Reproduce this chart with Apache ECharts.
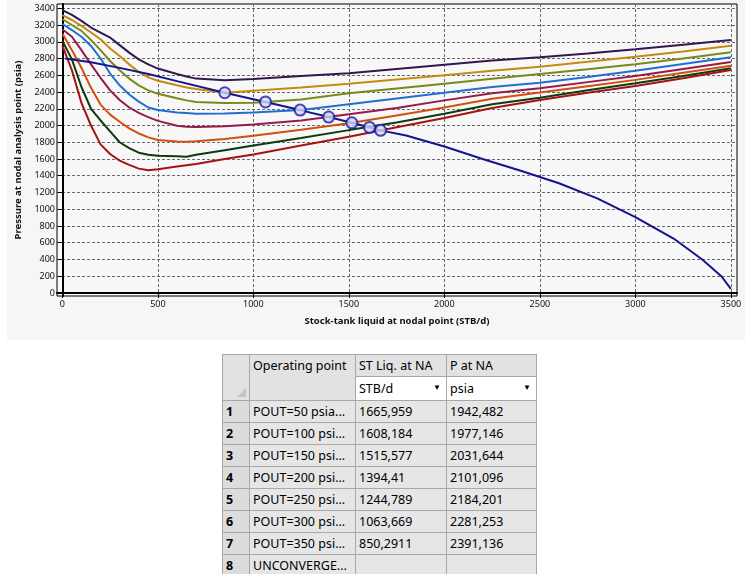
<!DOCTYPE html>
<html>
<head>
<meta charset="utf-8">
<script src="https://cdn.jsdelivr.net/npm/echarts@6/dist/echarts.min.js"></script>
<style>
  html, body { margin: 0; padding: 0; background: #ffffff; width: 745px; height: 574px; overflow: hidden; }
  #bg { position: absolute; left: 7px; top: 0; width: 738px; height: 340px; background: #f6f6f6; }
  #c { position: absolute; left: 0; top: 0; width: 745px; height: 345px; }
  #tbl { position: absolute; left: 222px; top: 354px; border-collapse: collapse; font-family: "Noto Sans", sans-serif; font-size: 12.5px; color: #000; }
  #tbl td { border: 1px solid #a8a8a8; padding: 0 3px; height: 21px; white-space: nowrap; background: #e6e6e6; }
  #tbl td.rn { font-weight: bold; width: 20px; background: #dcdcdc; }
  #tbl td.hd { background: #e2e2e2; }
  #tbl td.unit { background: #ffffff; position: relative; }
  #tbl td.unit span.arr { position: absolute; right: 5px; top: 4px; font-size: 8px; }
  #tbl td.corner { background: #e2e2e2; position: relative; }
  #tbl td.corner span.tri { position: absolute; right: 3px; bottom: 3px; width: 0; height: 0; border-left: 9px solid transparent; border-bottom: 9px solid #c4c4c4; }
</style>
</head>
<body>
<div id="bg"></div>
<div id="c"></div>
<table id="tbl"></table>
<script>
// ---- data ----
const Q = [0, 50, 100, 150, 200, 250, 300, 350, 400, 450, 500, 600, 650, 700, 850, 1000, 1250, 1500, 1750, 2000, 2250, 2500, 2750, 3000, 3250, 3500];
const pout400 = [3379, 3320, 3250, 3170, 3110, 3050, 2960, 2870, 2790, 2730, 2680, 2615, 2585, 2560, 2540, 2555, 2590, 2625, 2675, 2725, 2775, 2814, 2860, 2910, 2965, 3021];
const pout350 = [3319, 3260, 3190, 3110, 3030, 2920, 2830, 2730, 2640, 2575, 2535, 2480, 2455, 2435, 2392, 2415, 2455, 2500, 2550, 2600, 2655, 2702, 2760, 2822, 2885, 2953];
const pout300 = [3272, 3200, 3130, 3020, 2900, 2770, 2660, 2560, 2480, 2420, 2380, 2325, 2300, 2280, 2270, 2272, 2310, 2384, 2442, 2500, 2558, 2615, 2672, 2731, 2800, 2874];
const pout250 = [3212, 3140, 3060, 2950, 2800, 2620, 2480, 2370, 2285, 2215, 2185, 2155, 2148, 2140, 2142, 2155, 2185, 2254, 2323, 2392, 2461, 2511, 2580, 2654, 2735, 2814];
const pout200 = [3149, 3060, 2900, 2730, 2570, 2420, 2305, 2215, 2150, 2100, 2055, 1998, 1986, 1982, 1990, 2012, 2060, 2135, 2210, 2300, 2385, 2444, 2518, 2591, 2675, 2758];
const pout150 = [3100, 2900, 2690, 2450, 2250, 2130, 2045, 1965, 1905, 1858, 1828, 1808, 1806, 1812, 1838, 1877, 1950, 2026, 2120, 2215, 2320, 2395, 2470, 2545, 2630, 2714];
const pout100 = [3013, 2790, 2460, 2200, 2060, 1930, 1800, 1730, 1675, 1650, 1638, 1632, 1628, 1650, 1705, 1760, 1850, 1945, 2035, 2140, 2255, 2332, 2420, 2504, 2590, 2683];
const pout50  = [2953, 2660, 2270, 2000, 1775, 1660, 1580, 1530, 1485, 1465, 1478, 1510, 1525, 1540, 1600, 1655, 1760, 1865, 1978, 2090, 2210, 2304, 2390, 2472, 2565, 2663];

const iprQ = [15, 150, 300, 450, 600, 850.29, 1063.67, 1244.79, 1394.41, 1515.58, 1608.18, 1665.96, 1800, 2000, 2200, 2400, 2600, 2800, 3000, 3200, 3350, 3450, 3500];
const iprP = [2800, 2755, 2688, 2615, 2530, 2391, 2281, 2184, 2101, 2032, 1977, 1942, 1880, 1750, 1600, 1460, 1310, 1130, 905, 650, 400, 200, 50];

const opLabels = ["POUT=50 psia...", "POUT=100 psi...", "POUT=150 psi...", "POUT=200 psi...", "POUT=250 psi...", "POUT=300 psi...", "POUT=350 psi...", "UNCONVERGE..."];
const opQText = ["1665,959", "1608,184", "1515,577", "1394,41", "1244,789", "1063,669", "850,2911", ""];
const opPText = ["1942,482", "1977,146", "2031,644", "2101,096", "2184,201", "2281,253", "2391,136", ""];
const opQ = [1665.959, 1608.184, 1515.577, 1394.41, 1244.789, 1063.669, 850.2911];
const opP = [1942.482, 1977.146, 2031.644, 2101.096, 2184.201, 2281.253, 2391.136];

const xTicks = [0, 500, 1000, 1500, 2000, 2500, 3000, 3500];
const yTicks = [0, 200, 400, 600, 800, 1000, 1200, 1400, 1600, 1800, 2000, 2200, 2400, 2600, 2800, 3000, 3200, 3400];

const xTitle = "Stock-tank liquid at nodal point (STB/d)";
const yTitle = "Pressure at nodal analysis point (psia)";
const colHeads = ["Operating point", "ST Liq. at NA", "P at NA"];
const units = ["STB/d", "psia"];

// ---- chart ----
const curves = [pout400, pout350, pout300, pout250, pout200, pout150, pout100, pout50];
const curveColors = ["#33174f", "#c68a12", "#7a8a18", "#1f6fd3", "#951a48", "#d24f0e", "#0c3b0e", "#a51212"];

const series = curves.map((c, i) => ({
  type: "line",
  data: Q.map((q, j) => [q, c[j]]),
  showSymbol: false,
  lineStyle: { color: curveColors[i], width: 2 },
  itemStyle: { color: curveColors[i] },
  z: 2,
  silent: true
}));
series.push({
  type: "line",
  data: iprQ.map((q, j) => [q, iprP[j]]),
  showSymbol: false,
  lineStyle: { color: "#14148e", width: 2 },
  z: 3,
  silent: true
});
series.push({
  type: "scatter",
  data: opQ.map((q, j) => [q, opP[j]]),
  symbol: "circle",
  symbolSize: 11,
  itemStyle: { color: "#d4d9f4", borderColor: "#1a1aa6", borderWidth: 2 },
  z: 4,
  silent: true
});

const plain = v => String(v);
const axisFont = { fontFamily: "Noto Sans", fontSize: 9, color: "#111", formatter: plain };
const chart = echarts.init(document.getElementById("c"));
chart.setOption({
  animation: false,
  backgroundColor: "transparent",
  grid: { left: 57, top: 4, width: 680, height: 292, show: true, borderColor: "#000", borderWidth: 1, backgroundColor: "#f8f8f8" },
  xAxis: {
    type: "value", min: -28, max: 3532,
    name: xTitle, nameLocation: "middle", nameGap: 20,
    nameTextStyle: { fontFamily: "Noto Sans", fontSize: 9.5, fontWeight: "bold", color: "#111" },
    axisLine: { show: true, lineStyle: { color: "#000", width: 2 } },
    axisTick: { show: true, length: 5, lineStyle: { color: "#000" }, customValues: xTicks },
    axisLabel: Object.assign({ margin: 4, customValues: xTicks }, axisFont),
    splitLine: { show: true, lineStyle: { color: "#6a6a6a", type: [3, 2], width: 1 } }
  },
  yAxis: {
    type: "value", min: -36, max: 3451,
    name: yTitle, nameLocation: "middle", nameGap: 25, nameRotate: 90,
    nameTextStyle: { fontFamily: "Noto Sans", fontSize: 9.5, fontWeight: "bold", color: "#111" },
    axisLine: { show: true, lineStyle: { color: "#000", width: 2 } },
    axisTick: { show: true, length: 5, lineStyle: { color: "#000" }, customValues: yTicks },
    axisLabel: Object.assign({ margin: 2, customValues: yTicks }, axisFont),
    splitLine: { show: true, lineStyle: { color: "#6a6a6a", type: [3, 2], width: 1 } }
  },
  series: series
});

// ---- table ----
const tbl = document.getElementById("tbl");
let html = "";
html += '<tr><td class="corner" rowspan="2" style="width:20px"><span class="tri"></span></td><td class="hd" rowspan="2" style="vertical-align:top;width:99px;padding-top:2px">' + colHeads[0] + '</td><td class="hd" style="width:84px">' + colHeads[1] + '</td><td class="hd" style="width:83px">' + colHeads[2] + '</td></tr>';
html += '<tr><td class="unit" style="height:23px">' + units[0] + '<span class="arr">&#9660;</span></td><td class="unit">' + units[1] + '<span class="arr">&#9660;</span></td></tr>';
for (let i = 0; i < opLabels.length; i++) {
  html += '<tr><td class="rn">' + (i + 1) + '</td><td>' + opLabels[i] + '</td><td>' + opQText[i] + '</td><td>' + opPText[i] + '</td></tr>';
}
tbl.innerHTML = html;
</script>
</body>
</html>
